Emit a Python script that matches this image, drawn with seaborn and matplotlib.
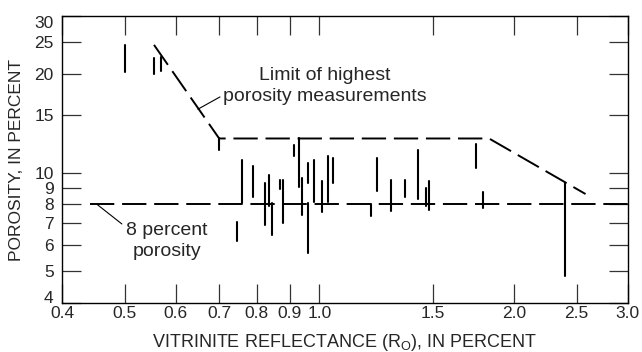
import numpy as np
import pandas as pd
import matplotlib
matplotlib.use('Agg')
import matplotlib.pyplot as plt
import seaborn as sns

# Vitrinite reflectance (Ro, %) and porosity range (%) of each sample group
ro = [0.50, 0.555, 0.57, 0.70, 0.745, 0.76, 0.79, 0.825, 0.835, 0.845,
      0.87, 0.88, 0.915, 0.93, 0.94, 0.96, 0.96, 0.98, 1.01, 1.03,
      1.05, 1.20, 1.23, 1.29, 1.355, 1.42, 1.46, 1.48, 1.745, 1.79, 2.40]
phi_low = [20.3, 20.0, 20.4, 11.7, 6.2, 8.1, 8.4, 6.9, 7.9, 6.45,
           8.9, 7.0, 11.2, 9.05, 7.4, 9.3, 5.7, 8.15, 7.6, 8.15,
           9.3, 7.35, 8.8, 7.65, 8.4, 8.3, 7.9, 7.7, 10.3, 7.8, 4.85]
phi_high = [24.4, 22.3, 22.5, 12.7, 7.05, 10.9, 10.5, 9.3, 9.8, 8.1,
            9.5, 9.5, 12.1, 12.7, 9.65, 10.7, 8.1, 10.9, 9.45, 11.2,
            11.1, 8.0, 11.1, 9.5, 9.5, 11.7, 8.95, 9.4, 12.2, 8.75, 9.3]

# Limit of highest porosity measurements
limit_ro = [0.555, 0.70, 1.83, 2.58]
limit_phi = [24.5, 12.7, 12.7, 8.6]

# 8 percent porosity line
cut_ro = [0.442, 3.0]
cut_phi = [8, 8]

x_ticks = [0.4, 0.5, 0.6, 0.7, 0.8, 0.9, 1.0, 1.5, 2.0, 2.5, 3.0]
x_labels = ['0.4', '0.5', '0.6', '0.7', '0.8', '0.9', '1.0', '1.5', '2.0', '2.5', '3.0']
y_ticks = [4, 5, 6, 7, 8, 9, 10, 15, 20, 25, 30]
y_labels = [str(v) for v in y_ticks]

sns.set_style('ticks')
plt.rcParams['font.family'] = ['Liberation Sans', 'DejaVu Sans']
plt.rcParams['mathtext.default'] = 'regular'

# long table: two rows per segment
seg = pd.DataFrame({
    'ro': np.repeat(ro, 2),
    'phi': np.ravel(np.column_stack([phi_low, phi_high])),
    'id': np.repeat(np.arange(len(ro)), 2),
})

fig = plt.figure(figsize=(6.42, 3.52), dpi=100)
ax = fig.add_axes([0.0966, 0.139, 0.8814, 0.8155])

sns.lineplot(data=seg, x='ro', y='phi', units='id', estimator=None,
             color='black', linewidth=1.5, sort=False, ax=ax, legend=False)

dash = (0, (12.5, 4))
ax.plot(limit_ro, limit_phi, color='black', linewidth=1.4, linestyle=dash)
ax.plot(cut_ro, cut_phi, color='black', linewidth=1.4, linestyle=dash)

ax.set_xscale('log')
ax.set_yscale('log')
ax.set_xlim(0.4, 3.0)
ax.set_ylim(4, 30)

ax.set_xticks(x_ticks)
ax.set_xticklabels(x_labels)
ax.set_yticks(y_ticks)
ax.set_yticklabels(y_labels)
ax.minorticks_off()
ax.tick_params(axis='both', which='major', direction='in', length=13.5, width=0.9,
               top=True, right=True, labelsize=12.5, color='#333333')
ax.tick_params(axis='x', pad=2)
ax.tick_params(axis='y', pad=6)

# keep end labels inside the axis range like the original
ylab = ax.get_yticklabels()
ylab[0].set_va('baseline')
ylab[-1].set_va('top')

for s in ax.spines.values():
    s.set_visible(True)
    s.set_linewidth(1.0)
    s.set_color('black')

ax.set_xlabel('VITRINITE REFLECTANCE (R$_O$), IN PERCENT', fontsize=13, labelpad=8)
ax.set_ylabel('POROSITY, IN PERCENT', fontsize=12.5, labelpad=7)

# annotations
ax.plot([0.649, 0.702], [15.6, 17.0], color='black', linewidth=0.8)
ax.text(1.02, 18.4, 'Limit of highest\nporosity measurements', ha='center', va='center',
        fontsize=14, linespacing=1.3)
ax.plot([0.453, 0.495], [8.0, 6.97], color='black', linewidth=0.8)
ax.text(0.581, 6.2, '8 percent\nporosity', ha='center', va='center',
        fontsize=14, linespacing=1.3)

fig.savefig('out.png', dpi=100)
